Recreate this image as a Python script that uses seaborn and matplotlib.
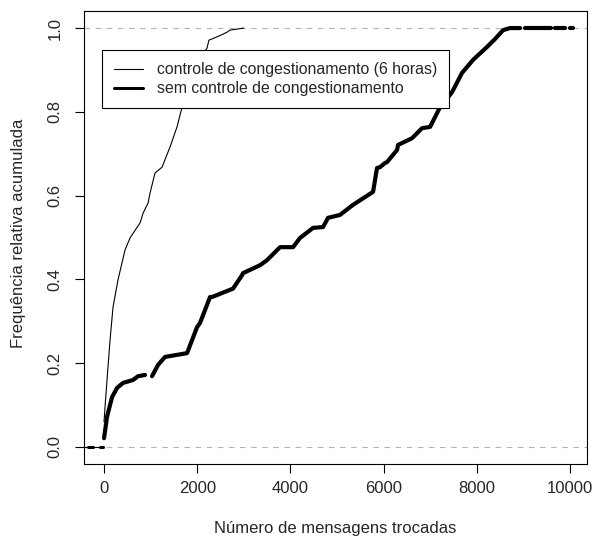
import matplotlib
matplotlib.use("Agg")
import matplotlib.pyplot as plt
from matplotlib.lines import Line2D
import numpy as np
import pandas as pd
import seaborn as sns

# controle de congestionamento (6 horas)
ctrl_x = [0, 21, 64, 129, 193, 300, 450, 558, 773, 837, 944, 987, 1094, 1245,
          1416, 1566, 1674, 1800, 1950, 2100, 2210, 2250, 2425, 2640, 2700, 3000]
ctrl_y = [0.06, 0.095, 0.16, 0.255, 0.334, 0.399, 0.470, 0.499, 0.535, 0.558,
          0.582, 0.606, 0.654, 0.668, 0.716, 0.764, 0.811, 0.86, 0.90, 0.935,
          0.952, 0.971, 0.979, 0.990, 0.995, 1.0]

# sem controle de congestionamento - trechos (seg) da curva
sem_seg = [0] * 8 + [1] * 43 + [2, 2, 3, 3, 4, 4]
sem_x = [0, 64, 172, 279, 408, 622, 730, 880,
         1030, 1159, 1309, 1781, 1996, 2060, 2275, 2318, 2768, 2961, 2983, 3348,
         3498, 3777, 4056, 4206, 4485, 4700, 4807, 5064, 5343, 5773, 5858, 5923,
         6030, 6073, 6288, 6309, 6609, 6824, 6996, 7210, 7468, 7682, 7918, 8219,
         8400, 8562, 8712, 8800, 8927, 8927, 8927,
         9034, 9592, 9678, 9893, 10000, 10064]
sem_y = [0.021, 0.072, 0.119, 0.141, 0.153, 0.160, 0.169, 0.172,
         0.169, 0.196, 0.215, 0.224, 0.286, 0.296, 0.358, 0.358, 0.378, 0.41, 0.415, 0.434,
         0.446, 0.477, 0.477, 0.499, 0.523, 0.525, 0.547, 0.554, 0.578, 0.609, 0.666, 0.668,
         0.678, 0.680, 0.709, 0.721, 0.737, 0.761, 0.764, 0.811, 0.847, 0.893, 0.924, 0.955,
         0.975, 0.995, 1.0, 1.0, 1.0, 1.0, 1.0,
         1.0, 1.0, 1.0, 1.0, 1.0, 1.0]

legend_labels = ["controle de congestionamento (6 horas)",
                 "sem controle de congestionamento"]

sns.set_style("white")
plt.rcParams['font.family'] = ['Liberation Sans', 'DejaVu Sans']
plt.rcParams['font.size'] = 12

fig = plt.figure(figsize=(5.96, 5.38), dpi=100)
ax = fig.add_axes([0.141, 0.138, 0.844, 0.841])

ax.axhline(0, color='#b3b3b3', lw=0.8, ls=(0, (5, 5)), zorder=1)
ax.axhline(1, color='#b3b3b3', lw=0.8, ls=(0, (5, 5)), zorder=1)

# extensao a esquerda em y = 0
ax.plot([-429, 0], [0, 0], color='black', lw=0.8, zorder=2)
ax.plot([-343, -236], [0, 0], color='black', lw=2.2, solid_capstyle='round', zorder=2)
ax.plot([-86, -21], [0, 0], color='black', lw=2.2, solid_capstyle='round', zorder=2)

ctrl = pd.DataFrame({'x': ctrl_x, 'y': ctrl_y})
sem = pd.DataFrame({'x': sem_x, 'y': sem_y, 'seg': sem_seg})

sns.lineplot(data=ctrl, x='x', y='y', color='black', lw=0.8,
             estimator=None, sort=False, ax=ax, zorder=3)
sns.lineplot(data=sem, x='x', y='y', units='seg', color='black', lw=3.0,
             estimator=None, sort=False, ax=ax, zorder=3,
             solid_capstyle='round', solid_joinstyle='round')

ax.set_xlim(-429, 10365)
ax.set_ylim(-0.04, 1.04)
ax.set_xticks([0, 2000, 4000, 6000, 8000, 10000])
ax.set_yticks([0.0, 0.2, 0.4, 0.6, 0.8, 1.0])
ax.set_yticklabels(['0.0', '0.2', '0.4', '0.6', '0.8', '1.0'], rotation=90, va='center')
ax.tick_params(axis='both', direction='out', length=6.5, width=0.8,
               color='black', labelsize=12, bottom=True, left=True)
ax.tick_params(axis='x', pad=6)
ax.tick_params(axis='y', pad=9)
for s in ax.spines.values():
    s.set_color('black')
    s.set_linewidth(0.8)

ax.set_xlabel('Número de mensagens trocadas', fontsize=12)
ax.set_ylabel('Frequência relativa acumulada', fontsize=12)
ax.xaxis.label.set_va('center')
ax.yaxis.label.set_va('center')
ax.xaxis.set_label_coords(0.5, -0.142)
ax.yaxis.set_label_coords(-0.131, 0.51)

handles = [Line2D([], [], color='black', lw=0.8),
           Line2D([], [], color='black', lw=2.2)]
leg = ax.legend(handles, legend_labels, loc='upper left',
                bbox_to_anchor=(0.036, 0.914), borderaxespad=0,
                fancybox=False, framealpha=1, edgecolor='black',
                fontsize=11.4, handlelength=1.8, handletextpad=0.9,
                labelspacing=0.25, borderpad=0.75)
leg.get_frame().set_linewidth(0.8)
leg.set_zorder(5)

fig.savefig('out.png', dpi=100)
